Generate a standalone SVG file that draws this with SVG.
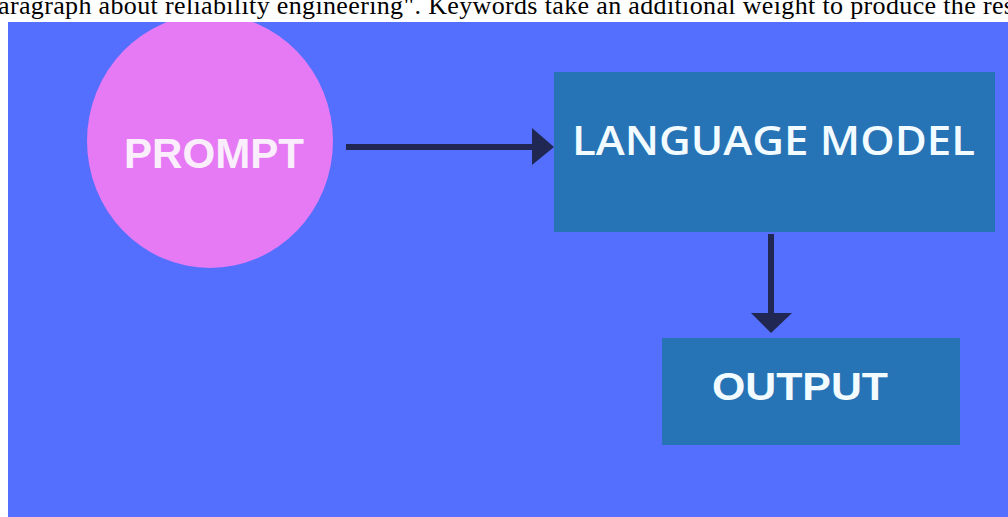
<svg xmlns="http://www.w3.org/2000/svg" width="1008" height="517" viewBox="0 0 1008 517">
  <defs>
    <clipPath id="panel"><rect x="8" y="22" width="1000" height="495"/></clipPath>
  </defs>
  <style>
    .caption { font-family: "Liberation Serif", serif; font-size: 26px; fill: #000; }
    .box { fill: #2673b6; }
    .lbl { font-family: "Liberation Sans", Arial, sans-serif; fill: #f2fbff; }
    .semi { font-family: "Open Sans", "Liberation Sans", sans-serif; fill: #f2fbff; font-weight: 600; }
    .conn { stroke: #1f2752; stroke-width: 6; fill: none; }
    .head { fill: #1f2752; }
  </style>
  <rect x="0" y="0" width="1008" height="517" fill="#ffffff"/>
  <text class="caption" x="-2" y="14" textLength="1016" lengthAdjust="spacing">aragraph about reliability engineering". Keywords take an additional weight to produce the res</text>
  <rect x="8" y="22" width="1000" height="495" fill="#546ffd"/>
  <g clip-path="url(#panel)">
    <g id="prompt">
      <ellipse cx="210" cy="141" rx="123" ry="127" fill="#e57af4"/>
      <text class="lbl" x="214" y="168" font-size="42" font-weight="bold" text-anchor="middle" style="fill:#fbeefc" textLength="180" lengthAdjust="spacingAndGlyphs">PROMPT</text>
    </g>
    <g id="language-model">
      <rect class="box" x="554" y="72" width="441" height="160"/>
      <text class="semi" x="572" y="155" font-size="39" textLength="403" lengthAdjust="spacingAndGlyphs">LANGUAGE MODEL</text>
    </g>
    <g id="output">
      <rect class="box" x="662" y="338" width="298" height="107"/>
      <text class="lbl" x="712" y="400" font-size="38" font-weight="bold" textLength="176" lengthAdjust="spacingAndGlyphs">OUTPUT</text>
    </g>
    <g id="connectors">
      <line class="conn" x1="346" y1="147" x2="536" y2="147"/>
      <path class="head" d="M532,128 L554,147 L532,165 z"/>
      <line class="conn" x1="771" y1="234" x2="771" y2="316"/>
      <path class="head" d="M751,313 L792,313 L771,333 z"/>
    </g>
  </g>
</svg>
